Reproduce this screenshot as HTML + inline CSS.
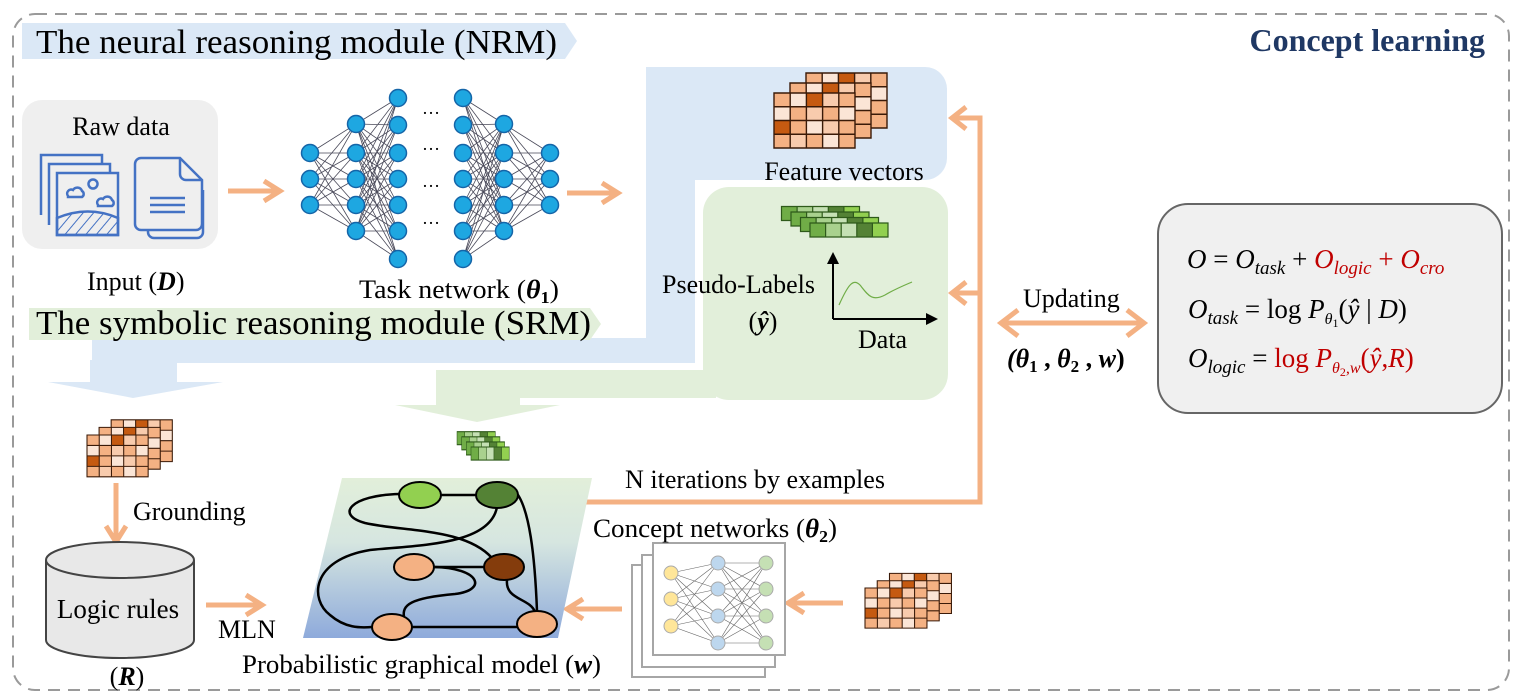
<!DOCTYPE html>
<html><head><meta charset="utf-8">
<style>
html,body{margin:0;padding:0;background:#fff;}
svg{display:block;}
text{font-family:"Liberation Serif",serif;fill:#000;}
</style></head>
<body>
<svg width="1516" height="700" viewBox="0 0 1516 700" xmlns="http://www.w3.org/2000/svg" xmlns:xlink="http://www.w3.org/1999/xlink">
<defs>
<linearGradient id="pg" x1="0" y1="0" x2="0" y2="1">
<stop offset="0" stop-color="#e2efda"/><stop offset="0.4" stop-color="#d6e6e0"/><stop offset="1" stop-color="#8eaadb"/>
</linearGradient>
<pattern id="hatch" width="8" height="8" patternUnits="userSpaceOnUse" patternTransform="rotate(40)">
<line x1="0" y1="0" x2="0" y2="8" stroke="#4472c4" stroke-width="2"/>
</pattern>
<g id="layer">
<rect x="0" y="0" width="81" height="55" fill="#f4b183"/>
<rect x="16.2" y="0" width="16.2" height="13.75" fill="#fbe5d6"/>
<rect x="32.4" y="0" width="16.2" height="13.75" fill="#c55a11"/>
<rect x="48.6" y="0" width="16.2" height="13.75" fill="#f8cbad"/>
<rect x="0" y="13.75" width="16.2" height="13.75" fill="#fbe5d6"/>
<rect x="32.4" y="13.75" width="16.2" height="13.75" fill="#f8cbad"/>
<rect x="64.8" y="13.75" width="16.2" height="13.75" fill="#fbe5d6"/>
<rect x="0" y="27.5" width="16.2" height="13.75" fill="#c55a11"/>
<rect x="32.4" y="27.5" width="16.2" height="13.75" fill="#fbe5d6"/>
<rect x="48.6" y="27.5" width="16.2" height="13.75" fill="#f8cbad"/>
<rect x="16.2" y="41.25" width="16.2" height="13.75" fill="#f8cbad"/>
<rect x="48.6" y="41.25" width="16.2" height="13.75" fill="#fbe5d6"/>
<path d="M0 0H81V55H0Z M16.2 0V55 M32.4 0V55 M48.6 0V55 M64.8 0V55 M0 13.75H81 M0 27.5H81 M0 41.25H81" fill="none" stroke="#3a1a08" stroke-width="1.4"/>
</g>
<g id="cube">
<use xlink:href="#layer" x="32" y="-20"/>
<use xlink:href="#layer" x="16" y="-10"/>
<use xlink:href="#layer" x="0" y="0"/>
</g>
<g id="srow">
<rect x="0" y="0" width="78" height="14" fill="#70ad47"/>
<rect x="15.6" y="0" width="15.6" height="14" fill="#a9d18e"/>
<rect x="31.2" y="0" width="15.6" height="14" fill="#c5e0b4"/>
<rect x="46.8" y="0" width="15.6" height="14" fill="#548235"/>
<rect x="62.4" y="0" width="15.6" height="14" fill="#92d050"/>
<path d="M0 0H78V14H0Z M15.6 0V14 M31.2 0V14 M46.8 0V14 M62.4 0V14" fill="none" stroke="#2e5a1a" stroke-width="1.2"/>
</g>
<g id="strips">
<use xlink:href="#srow" x="-28.5" y="-16.5"/>
<use xlink:href="#srow" x="-19" y="-11"/>
<use xlink:href="#srow" x="-9.5" y="-5.5"/>
<use xlink:href="#srow" x="0" y="0"/>
</g>
</defs>

<!-- outer dashed border -->
<rect x="13" y="14" width="1496" height="676" rx="22" fill="none" stroke="#9a9a9a" stroke-width="2" stroke-dasharray="12 8"/>

<!-- blue L region -->
<g fill="#dbe8f6">
<rect x="646" y="67" width="301" height="113" rx="22"/>
<rect x="646" y="67" width="49" height="296"/>
<rect x="92" y="338" width="603" height="25"/>
<rect x="90" y="360" width="87" height="22"/>
<polygon points="48,382 223,382 133,398"/>
</g>
<!-- green region -->
<g fill="#e2efda">
<rect x="703" y="187" width="245" height="213" rx="26"/>
<rect x="436" y="370" width="280" height="28"/>
<rect x="436" y="396" width="84" height="10"/>
<polygon points="395,405 560,405 477,422"/>
</g>

<!-- banners -->
<polygon points="22,23 565,23 577,41 565,59 22,59" fill="#dbe8f6"/>
<text x="36" y="53" font-size="34" textLength="521" lengthAdjust="spacingAndGlyphs">The neural reasoning module (NRM)</text>
<polygon points="29,308 590,308 601,324 590,340 29,340" fill="#e2efda"/>
<text x="36" y="334" font-size="34" textLength="555" lengthAdjust="spacingAndGlyphs">The symbolic reasoning module (SRM)</text>

<text x="1485" y="51" font-size="32" font-weight="bold" text-anchor="end" style="fill:#1f3864">Concept learning</text>

<!-- raw data box -->
<rect x="22" y="100" width="196" height="149" rx="20" fill="#efefef"/>
<text x="121" y="135" font-size="26" text-anchor="middle">Raw data</text>
<g fill="none" stroke="#4472c4" stroke-width="2.5">
<polyline points="41,215 41,155 102,155 102,163"/>
<polyline points="49,225 49,164 110,164 110,173"/>
<rect x="57" y="173" width="61" height="62" fill="#efefef"/>
<path d="M57,218 Q88,205 118,218 L118,235 L57,235 Z" fill="url(#hatch)"/>
<circle cx="93" cy="184" r="4.5"/>
<path d="M68,196 a4,4 0 0 1 5,-6 a5,5 0 0 1 9,1 a3.5,3.5 0 0 1 0,6 h-14 z"/>
<path d="M98,205 a4,4 0 0 1 5,-6 a5,5 0 0 1 9,1 a3.5,3.5 0 0 1 0,6 h-14 z"/>
<path d="M148,175 L148,232 a6,6 0 0 0 6,6 h43 a6,6 0 0 0 6,-6 V190"/>
<path d="M141,158 h39 l22,22 v44 a6,6 0 0 1 -6,6 h-55 a6,6 0 0 1 -6,-6 v-60 a6,6 0 0 1 6,-6 z" fill="#efefef"/>
<path d="M180,158 v16 a6,6 0 0 0 6,6 h16"/>
<line x1="150" y1="198" x2="185" y2="198"/>
<line x1="150" y1="205" x2="185" y2="205"/>
<line x1="150" y1="212" x2="185" y2="212"/>
</g>
<text x="87" y="290" font-size="26">Input (<tspan font-weight="bold" font-style="italic">D</tspan>)</text>

<!-- orange arrows -->
<g stroke="#f4b183" stroke-width="5" fill="none">
<line x1="228" y1="191" x2="276" y2="191"/><polyline points="264,181 280,191 264,201"/>
<line x1="567" y1="193" x2="614" y2="193"/><polyline points="602,183 618,193 602,203"/>
<polyline points="548,502 980,502 980,118 955,118"/>
<polyline points="966,107 952,118 966,129"/>
<line x1="980" y1="293" x2="955" y2="293"/><polyline points="966,282 952,293 966,304"/>
<line x1="1004" y1="323" x2="1141" y2="323"/>
<polyline points="1018,310 1001,323 1018,336"/><polyline points="1127,310 1144,323 1127,336"/>
<line x1="116" y1="483" x2="116" y2="538"/><polyline points="106,526 116,542 126,526"/>
<line x1="206" y1="605" x2="258" y2="605"/><polyline points="246,595 262,605 246,615"/>
<line x1="622" y1="609" x2="571" y2="609"/><polyline points="583,599 567,609 583,619"/>
<line x1="843" y1="603" x2="792" y2="603"/><polyline points="804,593 788,603 804,613"/>
</g>

<!-- task network -->
<path fill="none" stroke="#4a4a5a" stroke-width="0.8" d="
M310 153L356 124M310 153L356 153M310 153L356 179M310 153L356 205M310 153L356 231
M310 179L356 124M310 179L356 153M310 179L356 179M310 179L356 205M310 179L356 231
M310 205L356 124M310 205L356 153M310 205L356 179M310 205L356 205M310 205L356 231
M356 124L398 98M356 124L398 125M356 124L398 153M356 124L398 179M356 124L398 205M356 124L398 231M356 124L398 259
M356 153L398 98M356 153L398 125M356 153L398 153M356 153L398 179M356 153L398 205M356 153L398 231M356 153L398 259
M356 179L398 98M356 179L398 125M356 179L398 153M356 179L398 179M356 179L398 205M356 179L398 231M356 179L398 259
M356 205L398 98M356 205L398 125M356 205L398 153M356 205L398 179M356 205L398 205M356 205L398 231M356 205L398 259
M356 231L398 98M356 231L398 125M356 231L398 153M356 231L398 179M356 231L398 205M356 231L398 231M356 231L398 259
M504 124L463 98M504 124L463 125M504 124L463 153M504 124L463 179M504 124L463 205M504 124L463 231M504 124L463 259
M504 153L463 98M504 153L463 125M504 153L463 153M504 153L463 179M504 153L463 205M504 153L463 231M504 153L463 259
M504 179L463 98M504 179L463 125M504 179L463 153M504 179L463 179M504 179L463 205M504 179L463 231M504 179L463 259
M504 205L463 98M504 205L463 125M504 205L463 153M504 205L463 179M504 205L463 205M504 205L463 231M504 205L463 259
M504 231L463 98M504 231L463 125M504 231L463 153M504 231L463 179M504 231L463 205M504 231L463 231M504 231L463 259
M550 153L504 124M550 153L504 153M550 153L504 179M550 153L504 205M550 153L504 231
M550 179L504 124M550 179L504 153M550 179L504 179M550 179L504 205M550 179L504 231
M550 205L504 124M550 205L504 153M550 205L504 179M550 205L504 205M550 205L504 231"/>
<g fill="#1ea7e1" stroke="#1565a8" stroke-width="1.5">
<circle cx="310" cy="153" r="8.5"/><circle cx="310" cy="179" r="8.5"/><circle cx="310" cy="205" r="8.5"/>
<circle cx="356" cy="124" r="8.5"/><circle cx="356" cy="153" r="8.5"/><circle cx="356" cy="179" r="8.5"/><circle cx="356" cy="205" r="8.5"/><circle cx="356" cy="231" r="8.5"/>
<circle cx="398" cy="98" r="8.5"/><circle cx="398" cy="125" r="8.5"/><circle cx="398" cy="153" r="8.5"/><circle cx="398" cy="179" r="8.5"/><circle cx="398" cy="205" r="8.5"/><circle cx="398" cy="231" r="8.5"/><circle cx="398" cy="259" r="8.5"/>
<circle cx="463" cy="98" r="8.5"/><circle cx="463" cy="125" r="8.5"/><circle cx="463" cy="153" r="8.5"/><circle cx="463" cy="179" r="8.5"/><circle cx="463" cy="205" r="8.5"/><circle cx="463" cy="231" r="8.5"/><circle cx="463" cy="259" r="8.5"/>
<circle cx="504" cy="124" r="8.5"/><circle cx="504" cy="153" r="8.5"/><circle cx="504" cy="179" r="8.5"/><circle cx="504" cy="205" r="8.5"/><circle cx="504" cy="231" r="8.5"/>
<circle cx="550" cy="153" r="8.5"/><circle cx="550" cy="179" r="8.5"/><circle cx="550" cy="205" r="8.5"/>
</g>
<g font-size="18" text-anchor="middle">
<text x="431" y="114">…</text><text x="431" y="150">…</text><text x="431" y="187">…</text><text x="431" y="224">…</text>
</g>
<text x="359" y="298" font-size="26" textLength="200" lengthAdjust="spacingAndGlyphs">Task network (<tspan font-weight="bold" font-style="italic">θ</tspan><tspan font-weight="bold" font-size="17" dy="5">1</tspan><tspan dy="-5">)</tspan></text>

<!-- cubes -->
<use xlink:href="#cube" transform="translate(774,93)"/>
<use xlink:href="#cube" transform="translate(87,435) scale(0.755,0.76)"/>
<use xlink:href="#cube" transform="translate(865,588) scale(0.765,0.73)"/>
<use xlink:href="#strips" transform="translate(810,223)"/>
<use xlink:href="#strips" transform="translate(471,447) scale(0.49,0.93)"/>

<text x="844" y="180" font-size="26" text-anchor="middle">Feature vectors</text>
<g stroke="#000" stroke-width="2" fill="#000">
<line x1="833" y1="319" x2="833" y2="262"/><polygon points="827,264 833,252 839,264" stroke="none"/>
<line x1="833" y1="319" x2="928" y2="319"/><polygon points="926,313 938,319 926,325" stroke="none"/>
</g>
<path d="M839,305 C848,285 853,278 860,285 C868,295 872,302 885,295 C895,289 905,285 912,282" fill="none" stroke="#70ad47" stroke-width="1.2"/>
<text x="662" y="293" font-size="26" textLength="153" lengthAdjust="spacingAndGlyphs">Pseudo-Labels</text>
<text x="763" y="330" font-size="26" text-anchor="middle">(<tspan font-weight="bold" font-style="italic">ŷ</tspan>)</text>
<text x="858" y="348" font-size="26">Data</text>

<text x="1023" y="307" font-size="26">Updating</text>
<text x="1007" y="367" font-size="26" font-weight="bold"><tspan font-style="italic">(θ</tspan><tspan font-size="17" dy="5">1</tspan><tspan dy="-5"> , </tspan><tspan font-style="italic">θ</tspan><tspan font-size="17" dy="5">2</tspan><tspan dy="-5"> , </tspan><tspan font-style="italic">w</tspan>)</text>

<!-- formula box -->
<rect x="1158" y="204" width="344" height="209" rx="30" fill="#f0f0f0" stroke="#666" stroke-width="2"/>
<g font-size="27">
<text x="1187" y="268"><tspan font-style="italic">O</tspan> = <tspan font-style="italic">O</tspan><tspan font-style="italic" font-size="19" dy="6">task</tspan><tspan dy="-6"> + </tspan><tspan style="fill:#c00000"><tspan font-style="italic">O</tspan><tspan font-style="italic" font-size="19" dy="6">logic</tspan><tspan dy="-6"> + </tspan><tspan font-style="italic">O</tspan><tspan font-style="italic" font-size="19" dy="6">cro</tspan></tspan></text>
<text x="1188" y="318"><tspan font-style="italic">O</tspan><tspan font-style="italic" font-size="19" dy="6">task</tspan><tspan dy="-6"> = log </tspan><tspan font-style="italic">P</tspan><tspan font-style="italic" font-size="16" dy="6">θ</tspan><tspan font-size="12" dy="3">1</tspan><tspan dy="-9">(</tspan><tspan font-style="italic">ŷ</tspan> | <tspan font-style="italic">D</tspan>)</text>
<text x="1188" y="367"><tspan font-style="italic">O</tspan><tspan font-style="italic" font-size="19" dy="6">logic</tspan><tspan dy="-6"> = </tspan><tspan style="fill:#c00000">log <tspan font-style="italic">P</tspan><tspan font-style="italic" font-size="16" dy="6">θ</tspan><tspan font-size="12" dy="3">2</tspan><tspan font-style="italic" font-size="16" dy="-3">,w</tspan><tspan dy="-6">(</tspan><tspan font-style="italic">ŷ</tspan>,<tspan font-style="italic">R</tspan>)</tspan></text>
</g>

<!-- cylinder -->
<path d="M46,560 L46,640 A74,18 0 0 0 194,640 L194,560" fill="#e8e8e8" stroke="#444" stroke-width="2"/>
<ellipse cx="120" cy="560" rx="74" ry="18" fill="#e8e8e8" stroke="#444" stroke-width="2"/>
<text x="118" y="618" font-size="27" text-anchor="middle">Logic rules</text>
<text x="127" y="685" font-size="26" text-anchor="middle">(<tspan font-weight="bold" font-style="italic">R</tspan>)</text>
<text x="133" y="520" font-size="26">Grounding</text>
<text x="218" y="638" font-size="26">MLN</text>

<!-- PGM -->
<polygon points="342,478 592,478 558,638 303,638" fill="url(#pg)"/>
<g fill="none" stroke="#000" stroke-width="2.5">
<line x1="420" y1="495" x2="497" y2="495"/>
<path d="M400,494 C350,495 335,515 365,523 C405,532 465,528 492,558"/>
<path d="M497,507 C490,545 420,545 370,550 C310,560 310,600 330,615 C345,628 360,628 372,627"/>
<path d="M514,490 C530,505 535,560 537,611"/>
<line x1="414" y1="567" x2="504" y2="567"/>
<path d="M434,567 C480,568 488,590 455,594 C410,598 402,605 404,617"/>
<path d="M507,580 C505,600 530,598 535,612"/>
<line x1="392" y1="627" x2="537" y2="627"/>
</g>
<g stroke="#000" stroke-width="2">
<ellipse cx="420" cy="495" rx="21" ry="13" fill="#92d050"/>
<ellipse cx="497" cy="495" rx="21" ry="13" fill="#548235"/>
<ellipse cx="414" cy="567" rx="20" ry="13" fill="#f4b183"/>
<ellipse cx="504" cy="567" rx="20" ry="13" fill="#843c0c"/>
<ellipse cx="392" cy="627" rx="20" ry="13" fill="#f4b183"/>
<ellipse cx="537" cy="624" rx="20" ry="13" fill="#f4b183"/>
</g>
<text x="242" y="673" font-size="26" textLength="359" lengthAdjust="spacingAndGlyphs">Probabilistic graphical model (<tspan font-weight="bold" font-style="italic">w</tspan>)</text>
<text x="625" y="488" font-size="26" textLength="260" lengthAdjust="spacingAndGlyphs">N iterations by examples</text>

<!-- concept nets -->
<g fill="#fff" stroke="#a6a6a6" stroke-width="2">
<rect x="632" y="565" width="133" height="112"/>
<rect x="642" y="555" width="133" height="112"/>
<rect x="653" y="543" width="132" height="112"/>
</g>
<path fill="none" stroke="#666" stroke-width="0.6" d="
M671 573L718 563M671 573L718 589M671 573L718 616M671 573L718 643
M671 599L718 563M671 599L718 589M671 599L718 616M671 599L718 643
M671 626L718 563M671 626L718 589M671 626L718 616M671 626L718 643
M718 563L766 563M718 563L766 589M718 563L766 616M718 563L766 643
M718 589L766 563M718 589L766 589M718 589L766 616M718 589L766 643
M718 616L766 563M718 616L766 589M718 616L766 616M718 616L766 643
M718 643L766 563M718 643L766 589M718 643L766 616M718 643L766 643"/>
<g stroke="#aaa" stroke-width="1">
<circle cx="671" cy="573" r="7" fill="#ffe699"/><circle cx="671" cy="599" r="7" fill="#ffe699"/><circle cx="671" cy="626" r="7" fill="#ffe699"/>
<circle cx="718" cy="563" r="7" fill="#bdd7ee"/><circle cx="718" cy="589" r="7" fill="#bdd7ee"/><circle cx="718" cy="616" r="7" fill="#bdd7ee"/><circle cx="718" cy="643" r="7" fill="#bdd7ee"/>
<circle cx="766" cy="563" r="7" fill="#c5e0b4"/><circle cx="766" cy="589" r="7" fill="#c5e0b4"/><circle cx="766" cy="616" r="7" fill="#c5e0b4"/><circle cx="766" cy="643" r="7" fill="#c5e0b4"/>
</g>
<text x="593" y="537" font-size="26" textLength="244" lengthAdjust="spacingAndGlyphs">Concept networks (<tspan font-weight="bold" font-style="italic">θ</tspan><tspan font-weight="bold" font-size="17" dy="5">2</tspan><tspan dy="-5">)</tspan></text>
</svg>
</body></html>
